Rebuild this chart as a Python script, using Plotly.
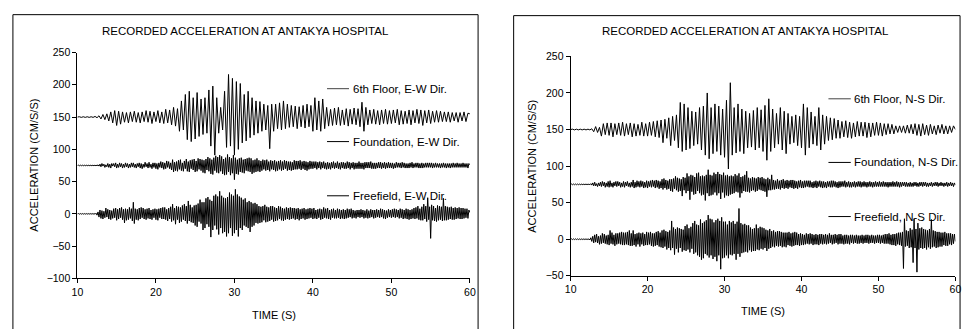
import plotly.graph_objects as go

# ---------------- data ----------------
# 6th-floor records are read every 0.25 s, the denser foundation/freefield records every 0.125 s
time_coarse = [round(10 + 0.25 * i, 3) for i in range(201)]
time_fine = [round(10 + 0.125 * i, 3) for i in range(401)]

# display offsets used in the original chart (cm/s/s)
OFFSET_6TH = 150
OFFSET_FOUNDATION = 75
OFFSET_FREEFIELD = 0

# ---- E-W direction (left chart), deviations from offset ----
ew_6th_floor = [
    0, 0.5, -0.5, 0.5,  -0.5, 0.5, -0.5, 0.5,  -0.5, 1, -1, 2,  -3, 4, -4, 5,
    -6, 8, -9, 10,  -13, 9, -11, 8,  -8, 7, -9, 8,  -7, 9, -8, 7,
    -9, 8, -7, 10,  -8, 9, -10, 8,  -7, 10, -9, 8,  -10, 12, -9, 11,
    -12, 15, -14, 13,  -22, 25, -20, 35,  -35, 40, -38, 30,  -34, 38, -30, 28,
    -27, 30, -25, 42,  -45, 48, -59, 30,  -25, 15, -20, 40,  -47, 66, -45, 60,
    -59, 55, -50, 52,  -40, 35, -37, 40,  -32, 30, -28, 25,  -25, 24, -22, 20,
    -20, 18, -49, 20,  -22, 20, -18, 22,  -20, 25, -18, 20,  -16, 18, -15, 17,
    -18, 16, -15, 18,  -17, 20, -15, 18,  -22, 30, -20, 25,  -22, 28, -18, 15,
    -14, 12, -13, 14,  -12, 15, -13, 11,  -12, 13, -14, 12,  -11, 14, -12, 13,
    -15, 23, -22, 15,  -12, 11, -10, 12,  -11, 10, -12, 11,  -10, 12, -11, 10,
    -10, 11, -9, 12,  -12, 10, -11, 9,  -10, 11, -12, 10,  -9, 12, -10, 11,
    -13, 10, -9, 11,  -10, 9, -8, 10,  -8, 9, -7, 8,  -7, 8, -8, 7,
    -6, 7, -8, 7,  -6, 8, -7, 6,  5,
]
ew_foundation = [
    0, 0.5, -0.5, 0.5, -0.5, 0.5, -0.5, 0.5,
    -0.5, 0.5, -0.5, 0.5, -0.5, 0.5, -0.5, 0.5,
    -0.5, 0.5, -0.5, 0.5, -0.5, 1, -1, 2,
    -2, 3, -1, 2, -3, 1, -2, 3,
    -3, 2, -4, 3, -1, 3, -2, 4,
    -4, 2, -3, 4, -2, 3, -4, 2,
    -3, 4, -2, 3, -4, 2, -3, 4,
    -2, 4, -3, 2, -4, 3, -2, 4,
    -4, 3, -5, 2, -3, 5, -2, 3,
    -4, 5, -3, 2, -5, 4, -3, 4,
    -5, 3, -6, 4, -3, 6, -4, 5,
    -6, 4, -5, 7, -3, 6, -5, 4,
    -7, 9, -10, 5, -8, 6, -9, 8,
    -6, 9, -8, 4, -9, 7, -5, 10,
    -9, 6, -10, 8, -5, 9, -7, 10,
    -10, 7, -9, 11, -6, 10, -8, 9,
    -11, 8, -12, 10, -7, 13, -9, 11,
    -13, 9, -14, 12, -8, 15, -11, 13,
    -12, 16, -9, 14, -13, 10, -15, 12,
    -14, 17, -10, 13, -15, 11, -12, 16,
    -22, 12, -13, 9, -14, 11, -10, 12,
    -11, 9, -12, 10, -8, 11, -9, 12,
    -10, 11, -13, 8, -11, 9, -10, 11,
    -9, 8, -10, 7, -8, 9, -6, 8,
    -8, 9, -7, 6, -9, 8, -6, 7,
    -7, 8, -9, 6, -8, 7, -6, 8,
    -8, 6, -7, 8, -5, 7, -8, 6,
    -7, 6, -8, 5, -7, 8, -6, 7,
    -6, 7, -5, 8, -7, 6, -5, 7,
    -7, 6, -8, 5, -6, 7, -5, 6,
    -5, 6, -4, 6, -6, 5, -4, 6,
    -6, 5, -4, 6, -5, 4, -6, 5,
    -5, 4, -6, 5, -4, 6, -5, 4,
    -4, 6, -5, 4, -6, 5, -4, 5,
    -5, 4, -5, 6, -4, 5, -6, 4,
    -4, 5, -6, 4, -5, 4, -5, 6,
    -5, 4, -5, 4, -6, 5, -4, 5,
    -4, 5, -4, 6, -5, 4, -5, 4,
    -5, 4, -4, 5, -4, 5, -5, 4,
    -4, 5, -5, 4, -4, 5, -4, 4,
    -4, 4, -5, 3, -4, 5, -3, 4,
    -3, 4, -4, 5, -3, 4, -4, 3,
    -4, 3, -4, 4, -3, 5, -4, 3,
    -3, 4, -3, 4, -4, 3, -4, 4,
    -4, 3, -3, 4, -3, 4, -3, 4,
    -3, 4, -4, 3, -3, 4, -3, 3,
    -3, 3, -4, 3, -3, 4, -3, 3,
    -4, 3, -3, 3, -4, 3, -3, 4,
    -3, 3, -3, 4, -3, 3, -3, 3,
    -3, 4, -3, 3, -3, 3, -4, 3,
    1,
]
ew_freefield = [
    0, 0.5, -0.5, 0.5, -0.5, 0.5, -0.5, 0.5,
    -0.5, 0.5, -0.5, 0.5, -0.5, 0.5, -0.5, 0.5,
    -0.5, 0.5, -0.5, 1, -2, 3, -5, 6,
    -7, 5, -8, 4, -6, 9, -5, 7,
    -8, 6, -9, 5, -7, 8, -6, 9,
    -10, 7, -8, 9, -6, 10, -9, 7,
    -14, 8, -10, 7, -9, 10, -7, 8,
    -11, 18, -15, 8, -9, 7, -10, 9,
    -8, 10, -6, 9, -8, 7, -9, 8,
    -7, 9, -8, 6, -9, 7, -6, 8,
    -9, 7, -10, 8, -6, 9, -8, 10,
    -8, 10, -9, 7, -11, 9, -8, 11,
    -12, 15, -10, 9, -16, 12, -9, 11,
    -14, 10, -12, 13, -9, 15, -11, 12,
    -15, 20, -11, 14, -13, 10, -14, 13,
    -18, 14, -20, 16, -12, 22, -15, 18,
    -25, 18, -22, 24, -16, 26, -20, 22,
    -36, 20, -25, 28, -18, 30, -24, 27,
    -32, 35, -22, 28, -30, 25, -28, 24,
    -35, 26, -30, 33, -22, 30, -34, 28,
    -30, 38, -25, 30, -35, 27, -22, 25,
    -25, 22, -18, 24, -20, 18, -22, 20,
    -28, 18, -20, 16, -18, 17, -14, 15,
    -15, 12, -14, 11, -13, 12, -10, 14,
    -13, 11, -12, 10, -11, 12, -9, 12,
    -12, 10, -11, 9, -10, 12, -8, 11,
    -10, 9, -11, 8, -9, 10, -8, 9,
    -9, 10, -8, 9, -7, 9, -9, 8,
    -8, 9, -10, 7, -8, 8, -7, 9,
    -9, 7, -8, 8, -7, 9, -6, 8,
    -8, 9, -7, 6, -8, 7, -6, 8,
    -9, 7, -8, 10, -6, 8, -7, 9,
    -8, 6, -9, 7, -6, 8, -7, 6,
    -7, 8, -6, 7, -8, 6, -7, 7,
    -8, 6, -7, 8, -6, 7, -5, 8,
    -7, 6, -6, 5, -7, 6, -5, 6,
    -6, 7, -5, 6, -7, 5, -6, 7,
    -7, 5, -6, 7, -5, 6, -7, 6,
    -6, 7, -5, 6, -6, 8, -5, 7,
    -7, 6, -8, 5, -6, 7, -5, 6,
    -6, 7, -5, 8, -6, 7, -5, 6,
    -7, 8, -6, 7, -8, 6, -7, 8,
    -8, 7, -9, 6, -8, 7, -7, 9,
    -8, 10, -7, 12, -9, 8, -10, 11,
    -10, 15, -8, 12, -12, 25, -9, 11,
    -38, 14, -10, 12, -11, 9, -12, 13,
    -10, 12, -9, 11, -11, 24, -10, 12,
    -10, 11, -9, 10, -8, 11, -9, 9,
    -9, 10, -8, 9, -7, 10, -8, 9,
    -8, 9, -7, 8, -6, 8, -7, 6,
    2,
]

# ---- N-S direction (right chart), deviations from offset ----
ns_6th_floor = [
    0, 0.5, -0.5, 0.5,  -0.5, 0.5, -0.5, 0.5,  -0.5, 0.5, -0.5, 1,  -3, 4, -4, 3,
    -9, 8, -7, 9,  -8, 9, -10, 8,  -7, 9, -8, 10,  -9, 8, -7, 9,
    -10, 8, -9, 7,  -8, 10, -9, 8,  -9, 10, -8, 11,  -10, 12, -11, 13,
    -18, 14, -12, 16,  -22, 18, -15, 20,  -25, 37, -30, 35,  -28, 30, -26, 25,
    -22, 24, -20, 30,  -28, 32, -35, 50,  -40, 30, -33, 35,  -30, 32, -35, 28,
    -38, 40, -54, 64,  -35, 30, -32, 35,  -30, 28, -33, 25,  -25, 22, -24, 26,
    -28, 30, -25, 27,  -30, 33, -42, 42,  -30, 28, -25, 22,  -20, 30, -28, 25,
    -33, 22, -20, 18,  -18, 20, -22, 18,  -25, 35, -35, 30,  -25, 24, -20, 18,
    -22, 30, -28, 20,  -20, 18, -15, 16,  -14, 15, -12, 13,  -12, 11, -10, 12,
    -11, 10, -12, 9,  -10, 11, -9, 10,  -9, 10, -11, 9,  -10, 9, -8, 10,
    -8, 9, -9, 8,  -7, 8, -6, 7,  -6, 5, -4, 5,  -4, 5, -5, 6,
    -5, 7, -6, 8,  -8, 7, -9, 8,  -7, 6, -8, 7,  -6, 5, -7, 6,
    -5, 7, -6, 5,  -6, 5, -4, 5,  0,
]
ns_foundation = [
    0, 0.5, -0.5, 0.5, -0.5, 0.5, -0.5, 0.5,
    -0.5, 0.5, -0.5, 0.5, -0.5, 0.5, -0.5, 0.5,
    -0.5, 0.5, -0.5, 0.5, -0.5, 1, -1, 2,
    -2, 3, -2, 1, -3, 2, -2, 3,
    -3, 4, -2, 3, -4, 2, -3, 4,
    -4, 5, -3, 2, -4, 3, -2, 4,
    -3, 4, -2, 3, -4, 2, -3, 4,
    -4, 3, -2, 4, -3, 2, -4, 3,
    -3, 6, -5, 3, -4, 5, -3, 4,
    -4, 5, -3, 4, -5, 3, -4, 5,
    -5, 4, -3, 5, -4, 6, -3, 5,
    -5, 6, -4, 5, -6, 4, -5, 7,
    -7, 8, -5, 6, -7, 5, -6, 7,
    -9, 7, -10, 8, -6, 11, -8, 9,
    -10, 8, -9, 7, -16, 10, -8, 9,
    -12, 15, -9, 11, -21, 13, -10, 12,
    -14, 10, -13, 15, -9, 16, -12, 11,
    -15, 12, -14, 11, -22, 13, -12, 20,
    -16, 13, -15, 12, -14, 16, -11, 14,
    -15, 17, -12, 14, -20, 13, -11, 16,
    -18, 12, -15, 13, -16, 11, -14, 12,
    -13, 11, -12, 14, -10, 12, -11, 15,
    -18, 10, -12, 11, -9, 13, -10, 18,
    -10, 9, -11, 8, -9, 10, -8, 9,
    -10, 8, -9, 10, -7, 9, -8, 10,
    -9, 8, -10, 7, -17, 9, -8, 7,
    -8, 13, -7, 6, -7, 5, -6, 7,
    -6, 5, -7, 6, -5, 7, -6, 5,
    -5, 6, -6, 5, -4, 6, -5, 6,
    -6, 5, -5, 4, -6, 5, -4, 6,
    -5, 4, -5, 5, -4, 5, -3, 5,
    -4, 5, -4, 3, -5, 4, -4, 5,
    -5, 4, -3, 5, -4, 4, -5, 4,
    -4, 3, -5, 4, -3, 4, -4, 5,
    -4, 5, -3, 4, -4, 3, -5, 4,
    -4, 4, -3, 4, -3, 5, -4, 3,
    -3, 4, -4, 3, -4, 3, -3, 4,
    -4, 3, -3, 4, -3, 4, -4, 3,
    -3, 4, -3, 3, -4, 3, -3, 4,
    -3, 3, -4, 3, -3, 4, -3, 3,
    -3, 4, -3, 3, -3, 4, -3, 3,
    -3, 3, -4, 3, -3, 3, -3, 4,
    -3, 3, -3, 4, -3, 3, -4, 3,
    -3, 3, -2, 3, -3, 3, -3, 2,
    -3, 3, -3, 2, -3, 3, -2, 3,
    -3, 2, -3, 3, -2, 3, -3, 3,
    -2, 3, -3, 2, -3, 2, -2, 3,
    -3, 2, -2, 3, -2, 3, -3, 2,
    -2, 3, -2, 2, -3, 2, -2, 3,
    -3, 2, -2, 3, -2, 2, -3, 2,
    -1,
]
ns_freefield = [
    0, 0.5, -0.5, 0.5, -0.5, 0.5, -0.5, 0.5,
    -0.5, 0.5, -0.5, 0.5, -0.5, 0.5, -0.5, 0.5,
    -0.5, 0.5, -0.5, 0.5, -1, 2, -3, 4,
    -5, 6, -4, 7, -5, 4, -7, 5,
    -6, 8, -5, 7, -6, 5, -7, 6,
    -8, 12, -6, 9, -7, 6, -9, 8,
    -7, 8, -6, 9, -7, 10, -8, 9,
    -8, 9, -7, 10, -8, 12, -9, 8,
    -9, 12, -8, 7, -10, 8, -7, 9,
    -10, 8, -7, 9, -9, 7, -8, 10,
    -8, 9, -7, 10, -9, 8, -10, 8,
    -9, 10, -8, 11, -10, 9, -11, 12,
    -12, 13, -10, 11, -14, 10, -12, 12,
    -15, 25, -12, 16, -21, 14, -13, 16,
    -18, 15, -12, 14, -17, 13, -15, 18,
    -16, 20, -14, 15, -18, 17, -13, 22,
    -20, 25, -18, 20, -22, 19, -24, 27,
    -28, 22, -26, 24, -20, 26, -22, 33,
    -25, 28, -22, 27, -27, 23, -24, 26,
    -30, 28, -22, 25, -41, 30, -26, 24,
    -25, 24, -22, 20, -26, 25, -21, 23,
    -22, 25, -20, 21, -28, 24, -20, 42,
    -24, 22, -19, 20, -18, 21, -17, 19,
    -18, 19, -15, 16, -17, 14, -16, 15,
    -16, 20, -14, 15, -15, 17, -13, 16,
    -14, 15, -12, 13, -16, 12, -13, 14,
    -12, 11, -10, 12, -11, 10, -9, 11,
    -10, 11, -9, 10, -11, 9, -10, 9,
    -11, 9, -8, 10, -9, 8, -10, 9,
    -9, 10, -8, 9, -8, 7, -9, 8,
    -8, 7, -8, 6, -7, 8, -6, 7,
    -7, 8, -6, 7, -8, 6, -7, 7,
    -7, 6, -8, 7, -6, 7, -7, 6,
    -6, 7, -7, 6, -6, 8, -5, 6,
    -7, 6, -6, 7, -5, 6, -7, 7,
    -6, 7, -6, 5, -7, 6, -6, 6,
    -6, 5, -7, 6, -5, 6, -6, 5,
    -5, 6, -6, 5, -6, 5, -5, 6,
    -6, 5, -5, 6, -5, 6, -6, 5,
    -5, 6, -5, 5, -6, 5, -5, 6,
    -5, 6, -6, 5, -5, 6, -6, 7,
    -6, 7, -6, 8, -7, 6, -8, 7,
    -8, 7, -9, 8, -7, 9, -8, 9,
    -9, 10, -40, 28, -10, 12, -9, 11,
    -12, 15, -11, 13, -32, 28, -12, 14,
    -45, 22, -14, 15, -12, 16, -13, 14,
    -12, 13, -14, 12, -11, 14, -13, 27,
    -11, 12, -10, 11, -12, 10, -11, 10,
    -10, 9, -10, 9, -8, 10, -9, 8,
    -9, 8, -7, 8, -8, 7, -6, 7,
    -3,
]

title_text = "RECORDED ACCELERATION AT ANTAKYA HOSPITAL"
x_title = "TIME (S)"
y_title = "ACCELERATION (CM/S/S)"

ew_labels = ["6th Floor, E-W Dir.", "Foundation, E-W Dir.", "Freefield, E-W Dir."]
ns_labels = ["6th Floor, N-S Dir.", "Foundation, N-S Dir.", "Freefield, N-S Dir."]
ew_label_y = [194, 112, 28]
ns_label_y = [192, 105, 31]

# ---------------- figure ----------------
W, H = 971, 329
FONT = "Arial, 'Liberation Sans', sans-serif"


def px(x):
    return x / W


def py(y):
    return 1 - y / H


fig = go.Figure()

ew_sets = [(time_coarse, ew_6th_floor, OFFSET_6TH),
           (time_fine, ew_foundation, OFFSET_FOUNDATION),
           (time_fine, ew_freefield, OFFSET_FREEFIELD)]
ns_sets = [(time_coarse, ns_6th_floor, OFFSET_6TH),
           (time_fine, ns_foundation, OFFSET_FOUNDATION),
           (time_fine, ns_freefield, OFFSET_FREEFIELD)]

for (t, series, off) in ew_sets:
    fig.add_trace(go.Scatter(x=t, y=[v + off for v in series], mode="lines",
                             line=dict(color="#000000", width=1), xaxis="x", yaxis="y",
                             showlegend=False, hoverinfo="skip"))
for (t, series, off) in ns_sets:
    fig.add_trace(go.Scatter(x=t, y=[v + off for v in series], mode="lines",
                             line=dict(color="#000000", width=1), xaxis="x2", yaxis="y2",
                             showlegend=False, hoverinfo="skip"))

axis_common = dict(showline=True, linecolor="#000000", linewidth=1, ticks="outside",
                   ticklen=4, tickcolor="#000000", showgrid=False, zeroline=False,
                   tickfont=dict(family=FONT, size=10.5, color="#000000"))

fig.update_layout(
    width=W, height=H,
    margin=dict(l=0, r=0, t=0, b=0),
    paper_bgcolor="#ffffff", plot_bgcolor="#ffffff",
    showlegend=False,
    xaxis=dict(domain=[px(72.3), px(469.7)], range=[10, 60], dtick=10, anchor="y", **axis_common),
    yaxis=dict(domain=[py(282.7), py(48.3)], range=[-100, 250], dtick=50, anchor="x", **axis_common),
    xaxis2=dict(domain=[px(571.7), px(961.3)], range=[10, 60], dtick=10, anchor="y2", **axis_common),
    yaxis2=dict(domain=[py(280), py(52.3)], range=[-50, 250], dtick=50, anchor="x2", **axis_common),
)

shapes = []
# chart-area borders (open at the bottom, as in the picture)
for x0, x1, ytop in [(7, 478, 9), (514, 966, 10)]:
    for xx in (x0, x1):
        shapes.append(dict(type="line", xref="paper", yref="paper", x0=px(xx), x1=px(xx),
                           y0=-0.1, y1=py(ytop), line=dict(color="#000000", width=1)))
    shapes.append(dict(type="line", xref="paper", yref="paper", x0=px(x0), x1=px(x1),
                       y0=py(ytop), y1=py(ytop), line=dict(color="#000000", width=1)))

annotations = []
# legend-like labels placed inside the plots
for (labels, ys, xr, yr, lx0, lx1, tx) in [
    (ew_labels, ew_label_y, "x", "y", 41.8, 44.6, 44.8),
    (ns_labels, ns_label_y, "x2", "y2", 43.5, 46.4, 46.6),
]:
    for i, (lab, yy) in enumerate(zip(labels, ys)):
        shapes.append(dict(type="line", xref=xr, yref=yr, x0=lx0, x1=lx1, y0=yy, y1=yy,
                           line=dict(color="#444444" if i == 0 else "#000000", width=1)))
        annotations.append(dict(text=lab, xref=xr, yref=yr, x=tx, y=yy, xanchor="left",
                                yanchor="middle", showarrow=False,
                                font=dict(family=FONT, size=11.5, color="#000000")))

for cx, cy in [(242.5, 25.7), (749, 26)]:
    annotations.append(dict(text=title_text, xref="paper", yref="paper", x=px(cx), y=py(cy),
                            xanchor="center", yanchor="middle", showarrow=False,
                            font=dict(family=FONT, size=11.5, color="#000000")))
for cx, cy in [(271, 321), (766.5, 316.7)]:
    annotations.append(dict(text=x_title, xref="paper", yref="paper", x=px(cx), y=py(cy),
                            xanchor="center", yanchor="middle", showarrow=False,
                            font=dict(family=FONT, size=11, color="#000000")))
for cx, cy in [(28, 165), (531.7, 166.7)]:
    annotations.append(dict(text=y_title, xref="paper", yref="paper", x=px(cx), y=py(cy),
                            xanchor="center", yanchor="middle", showarrow=False, textangle=-90,
                            font=dict(family=FONT, size=11, color="#000000")))

fig.update_layout(shapes=shapes, annotations=annotations)
fig.write_html("out.html", config={"displayModeBar": False},
               post_script="document.body.style.margin='0';")
